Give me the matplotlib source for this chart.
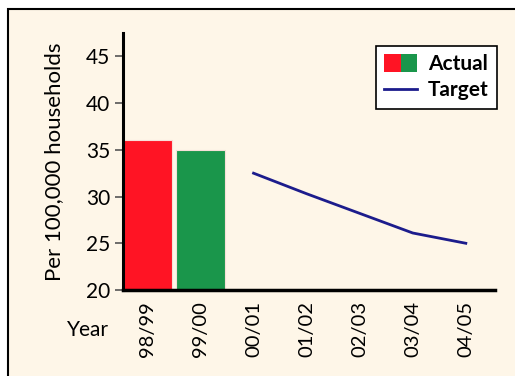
import matplotlib.pyplot as plt
from matplotlib.patches import Rectangle, Patch
from matplotlib.lines import Line2D
from matplotlib.legend_handler import HandlerTuple

plt.rcParams['font.family'] = ['Lato', 'DejaVu Sans']

years = ["98/99", "99/00", "00/01", "01/02", "02/03", "03/04", "04/05"]
actual_years = ["98/99", "99/00"]
actual_values = [36, 35]
actual_colors = ["#ff1424", "#1a964b"]
target_years = ["00/01", "01/02", "02/03", "03/04", "04/05"]
target_values = [32.5, 30.3, 28.2, 26.1, 25.0]

bg = "#fef6e8"
navy = "#1c1c8c"

fig = plt.figure(figsize=(5.15, 3.76), dpi=100)
fig.patch.set_facecolor("white")

# cream panel with a thin black border running off the right/bottom edges
panel = Rectangle((8 / 515, -0.1), 1.2, 1.1 - 9 / 376,
                  transform=fig.transFigure, facecolor=bg,
                  edgecolor="black", lw=1.5, zorder=-1)
fig.patches.append(panel)

ax = fig.add_axes([123 / 515, 1 - 290 / 376, (495 - 123) / 515, (290 - 33) / 376])
ax.set_zorder(1)
ax.set_facecolor("none")

xpos = {y: i for i, y in enumerate(years)}
for y, v, c in zip(actual_years, actual_values, actual_colors):
    ax.bar(xpos[y], v - 20, bottom=20, width=0.92, color=c,
           edgecolor="#f7e0d8", lw=0.8, zorder=2)

ax.plot([xpos[y] for y in target_years], target_values, color=navy, lw=2, zorder=3)

ax.set_xlim(-0.46, 6.55)
ax.set_ylim(20, 47.5)
ax.set_yticks([20, 25, 30, 35, 40, 45])
ax.set_xticks(range(len(years)))
ax.set_xticklabels(years, rotation=90, fontsize=14.5)
ax.tick_params(axis="x", length=0, pad=8)
ax.tick_params(axis="y", length=6, width=1.2, color="#555555", labelsize=15, pad=3)

for s in ["top", "right"]:
    ax.spines[s].set_visible(False)
ax.spines["left"].set_linewidth(2.2)
ax.spines["bottom"].set_linewidth(2.5)

ax.set_ylabel("Per 100,000 households", fontsize=16, labelpad=16)
fig.text(88 / 515, 1 - 330 / 376, "Year", fontsize=15, ha="center", va="center")

actual_handle = (Patch(facecolor=actual_colors[0]), Patch(facecolor=actual_colors[1]))
target_handle = Line2D([], [], color=navy, lw=2)
leg = ax.legend([actual_handle, target_handle], ["Actual", "Target"],
                handler_map={tuple: HandlerTuple(ndivide=None, pad=0)},
                loc="upper right", bbox_to_anchor=(1.005, 0.95), borderaxespad=0,
                frameon=True, fancybox=False, framealpha=1,
                edgecolor="black", prop={"weight": "bold", "size": 15},
                handlelength=1.6, handletextpad=0.5, borderpad=0.4,
                labelspacing=0.3, handleheight=0.9)
leg.get_frame().set_linewidth(1.2)

fig.savefig("out.png", dpi=100, facecolor=fig.get_facecolor())
